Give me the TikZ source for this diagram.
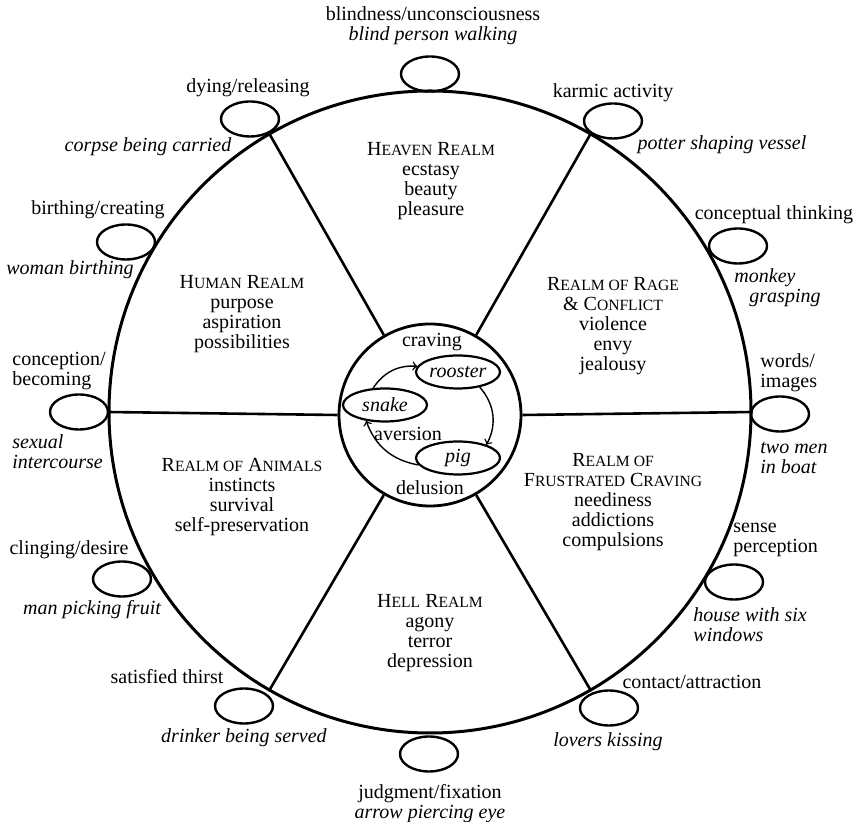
\documentclass[tikz,border=0pt]{standalone}
\usepackage{fontspec}
\setmainfont{Liberation Serif}
\usetikzlibrary{shapes.geometric}

\tikzstyle{stage} = [draw, ellipse, line width=1.2pt, inner sep=0pt, minimum width=29pt, minimum height=17.5pt]
\newcommand\smc[1]{{\fontsize{7.8}{10}\selectfont #1}}

\begin{document}
\begin{tikzpicture}[x=0.5pt, y=0.5pt,
		font=\fontsize{10}{10}\selectfont,
		lbl/.style={inner sep=0pt, align=center},
		itl/.style={lbl, font=\fontsize{10}{10}\selectfont\itshape},
		realm/.style={inner sep=0pt, align=center},
		beast/.style={draw, ellipse, line width=1.1pt, inner sep=0pt, minimum width=42pt, minimum height=16.5pt, font=\fontsize{10}{10}\selectfont\itshape},
		spoke/.style={line width=1.3pt}]
		\useasboundingbox (-430,-410) rectangle (430,412);
		\node (wheel) [draw, circle, line width=1.5pt, inner sep=0pt, minimum size=321pt] at (0,0) {};
		\node (hub) [draw, circle, line width=1.4pt, inner sep=0pt, minimum size=91pt] at (0,-3) {};
		\draw [spoke] (hub.0) -- (wheel.0);
		\draw [spoke] (hub.60) -- (wheel.60);
		\draw [spoke] (hub.120) -- (wheel.120);
		\draw [spoke] (hub.180) -- (wheel.180);
		\draw [spoke] (hub.240) -- (wheel.240);
		\draw [spoke] (hub.300) -- (wheel.300);
		\node (s1) [stage] at (0,338) {};
		\node (s2) [stage] at (183,291) {};
		\node (s3) [stage] at (308,166) {};
		\node (s4) [stage] at (350,-2) {};
		\node (s5) [stage] at (304,-170) {};
		\node (s6) [stage] at (179,-296) {};
		\node (s7) [stage] at (-1,-342) {};
		\node (s8) [stage] at (-186,-294) {};
		\node (s9) [stage] at (-308,-167) {};
		\node (s10) [stage] at (-351,0) {};
		\node (s11) [stage] at (-304,170) {};
		\node (s12) [stage] at (-180,293) {};
		\node (blind) [lbl] at (3,386) {blindness/unconsciousness\\ \textit{blind person walking}};
		\node (karmic) [lbl] at (183,319) {karmic activity};
		\node (potter) [itl] at (292,267) {potter shaping vessel};
		\node (concept) [lbl] at (344,197) {conceptual thinking};
		\node (monkey) [itl] at (335,134) {monkey};
		\node (grasp) [itl] at (355,114) {grasping};
		\node (words) [lbl, align=left, anchor=west] at (330,39) {words/\\images};
		\node (boat) [itl, align=left, anchor=west] at (330,-46) {two men\\in boat};
		\node (sense) [lbl, align=left, anchor=west] at (303,-128) {sense\\perception};
		\node (house) [itl, align=left, anchor=west] at (263,-213) {house with six\\windows};
		\node (contact) [lbl] at (262,-270) {contact/attraction};
		\node (lovers) [itl] at (178,-330) {lovers kissing};
		\node (judge) [lbl] at (0,-392) {judgment/fixation\\ \textit{arrow piercing eye}};
		\node (drinker) [itl] at (-186,-326) {drinker being served};
		\node (thirst) [lbl] at (-263,-265) {satisfied thirst};
		\node (fruit) [itl] at (-338,-198) {man picking fruit};
		\node (cling) [lbl] at (-361,-138) {clinging/desire};
		\node (sexual) [itl, align=left, anchor=west] at (-418,-40) {sexual\\intercourse};
		\node (conception) [lbl, align=left, anchor=west] at (-418,41) {conception/\\becoming};
		\node (woman) [itl] at (-360,142) {woman birthing};
		\node (birth) [lbl] at (-332,202) {birthing/creating};
		\node (corpse) [itl] at (-282,265) {corpse being carried};
		\node (dying) [lbl] at (-182,324) {dying/releasing};
		\node (heaven) [realm] at (1,231) {H\smc{EAVEN} R\smc{EALM}\\ecstasy\\beauty\\pleasure};
		\node (human) [realm] at (-188,98) {H\smc{UMAN} R\smc{EALM}\\purpose\\aspiration\\possibilities};
		\node (rage) [realm] at (183,86) {R\smc{EALM OF} R\smc{AGE}\\\& C\smc{ONFLICT}\\violence\\envy\\jealousy};
		\node (animals) [realm] at (-188,-85) {R\smc{EALM OF} A\smc{NIMALS}\\instincts\\survival\\self-preservation};
		\node (frustr) [realm] at (183,-90) {R\smc{EALM OF}\\F\smc{RUSTRATED} C\smc{RAVING}\\neediness\\addictions\\compulsions};
		\node (hell) [realm] at (0,-221) {H\smc{ELL} R\smc{EALM}\\agony\\terror\\depression};
		\node (craving) [lbl] at (2,70) {craving};
		\node (rooster) [beast] at (28,40) {rooster};
		\node (snake) [beast] at (-45,7) {snake};
		\node (aversion) [lbl] at (-22,-22) {aversion};
		\node (pig) [beast] at (28,-46) {pig};
		\node (delusion) [lbl] at (0,-76) {delusion};
		\draw [->, line width=0.7pt] (snake.125) to[bend left=30] (rooster.172);
		\draw [->, line width=0.7pt] (rooster.-35) to[bend left=35] (pig.25);
		\draw [->, line width=0.7pt] (pig.190) to[bend left=30] (snake.220);
	\end{tikzpicture}
\end{document}
